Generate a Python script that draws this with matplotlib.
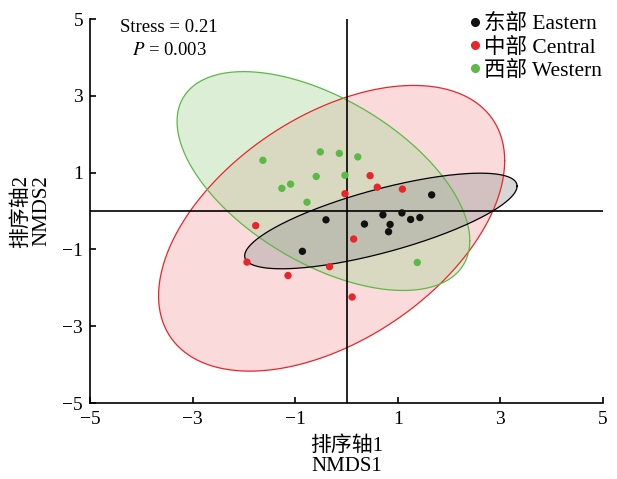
import numpy as np
import matplotlib.pyplot as plt
from matplotlib.lines import Line2D

plt.rcParams['font.family'] = ['Liberation Serif', 'Noto Sans CJK SC']
plt.rcParams['mathtext.fontset'] = 'stix'

# NMDS scores
east_x = [-0.40, -0.86, 0.35, 0.71, 1.08, 0.85, 0.82, 1.25, 1.43, 1.66]
east_y = [-0.23, -1.05, -0.34, -0.10, -0.05, -0.35, -0.54, -0.22, -0.17, 0.42]
central_x = [0.46, 0.60, 1.09, -0.03, -1.77, 0.14, -1.94, -1.14, -0.33, 0.11]
central_y = [0.92, 0.62, 0.57, 0.45, -0.38, -0.73, -1.33, -1.68, -1.45, -2.24]
west_x = [-1.63, -0.51, -0.14, 0.22, -0.59, -0.03, -1.26, -1.09, -0.77, 1.38]
west_y = [1.32, 1.54, 1.50, 1.41, 0.90, 0.93, 0.59, 0.70, 0.23, -1.34]

# ellipse centres and shape matrices (xx, yy, xy) in data units
east_ell = [(0.67, -0.26), (7.05, 1.55, 2.41)]
central_ell = [(-0.29, -0.45), (11.38, 13.84, 5.94)]
west_ell = [(-0.45, 0.78), (8.14, 8.12, -4.43)]

labels = ['东部 Eastern', '中部 Central', '西部 Western']
ticks = [-5, -3, -1, 1, 3, 5]

groups = [
    (east_x, east_y, east_ell, '#111111', '#000000', '#9a9a9a'),
    (central_x, central_y, central_ell, '#e8262a', '#e8262a', '#f4a3a6'),
    (west_x, west_y, west_ell, '#5cb946', '#5cb946', '#a9d99a'),
]

fig = plt.figure(figsize=(6.17, 4.79), dpi=100)
ax = fig.add_axes([90 / 617, 76 / 479, 513 / 617, 384 / 479])

t = np.linspace(0, 2 * np.pi, 300)
# draw ellipses: red, green, then black on top
for idx in [1, 2, 0]:
    gx, gy, (c, m), pc, ec, fc = groups[idx]
    M = np.array([[m[0], m[2]], [m[2], m[1]]])
    L = np.linalg.cholesky(M)
    pts = L @ np.vstack([np.cos(t), np.sin(t)])
    ex = c[0] + pts[0]
    ey = c[1] + pts[1]
    ax.fill(ex, ey, color=fc, alpha=0.4, lw=0, zorder=1)
    ax.plot(ex, ey, color=ec, lw=0.9, zorder=2)

ax.axhline(0, color='black', lw=1.2, zorder=3)
ax.axvline(0, color='black', lw=1.2, zorder=3)

for gx, gy, ell, pc, ec, fc in groups:
    ax.scatter(gx, gy, s=28, color=pc, edgecolors='none', zorder=4)

ax.set_xlim(-5, 5)
ax.set_ylim(-5, 5)
ax.set_xticks(ticks)
ax.set_yticks(ticks)
ax.set_xticklabels([str(v).replace('-', '\u2212') for v in ticks])
ax.set_yticklabels([str(v).replace('-', '\u2212') for v in ticks])
ax.tick_params(direction='in', length=4, width=1.2, labelsize=14)
ax.tick_params(axis='x', pad=6)
ax.tick_params(axis='y', pad=5)
ax.spines['top'].set_visible(False)
ax.spines['right'].set_visible(False)
ax.spines['left'].set_linewidth(1.2)
ax.spines['bottom'].set_linewidth(1.2)

ax.set_xlabel('排序轴1\nNMDS1', fontsize=15, linespacing=1.05, labelpad=6)
ax.set_ylabel('排序轴2\nNMDS2', fontsize=15, linespacing=1.05, labelpad=8)

ax.text(-3.46, 4.79, 'Stress = 0.21', fontsize=13.5, ha='center', va='center')
ax.text(-3.46, 4.17, '$P$ = 0.003', fontsize=13.5, ha='center', va='center')

handles = [Line2D([], [], marker='o', ls='none', color=g[3], markersize=5.5)
           for g in groups]
ax.legend(handles, labels, loc='upper right', bbox_to_anchor=(1.015, 1.035),
          frameon=False, fontsize=15.5, handletextpad=0.0, labelspacing=0.15,
          handlelength=0.9, borderaxespad=0)

fig.savefig('out.png', dpi=100)
